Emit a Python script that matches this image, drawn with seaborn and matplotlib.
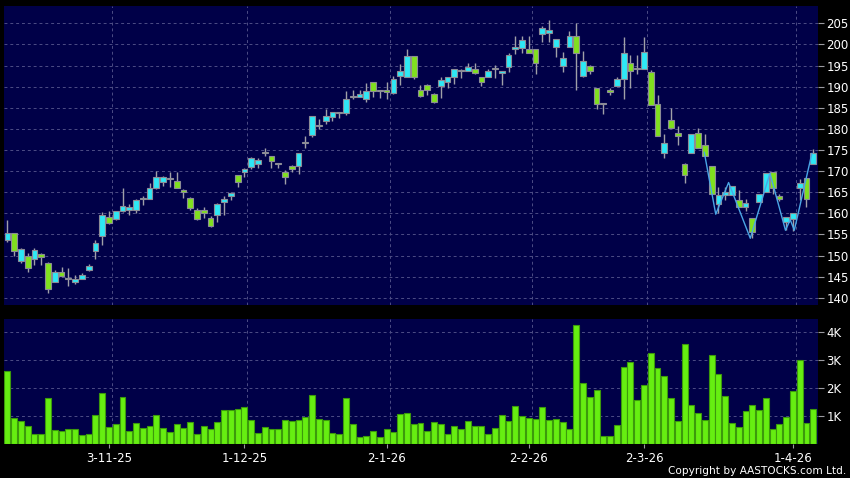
import numpy as np
import pandas as pd
import matplotlib
matplotlib.use("Agg")
import matplotlib.pyplot as plt
import seaborn as sns

## price data (one row per trading day)
opens = [153.8, 155.3, 148.8, 150.0, 149.1, 150.3, 148.2, 143.8, 146.0, 144.8,
         143.8, 144.5, 146.6, 151.2, 154.6, 159.2, 158.6, 160.5, 160.9, 160.9,
         163.5, 163.3, 166.1, 167.4, 168.2, 167.7, 165.6, 163.7, 160.9, 160.8,
         159.0, 159.7, 162.8, 164.0, 169.1, 169.9, 171.0, 171.6, 174.4, 173.6,
         172.0, 169.9, 171.2, 171.2, 176.7, 178.6, 180.8, 181.9, 182.9, 183.8,
         183.8, 187.6, 187.6, 187.0, 191.0, 189.0, 189.2, 188.4, 192.5, 192.4,
         197.2, 189.3, 190.4, 188.2, 190.2, 191.0, 192.2, 193.7, 193.8, 194.2,
         192.4, 192.4, 194.3, 193.2, 194.7, 198.8, 199.1, 198.8, 198.8, 202.4,
         202.8, 199.3, 194.9, 199.3, 202.0, 192.6, 195.0, 189.7, 186.0, 189.2,
         190.1, 191.9, 195.5, 194.2, 194.1, 193.4, 185.8, 174.2, 182.1, 179.0,
         171.7, 174.4, 179.0, 176.2, 171.3, 162.1, 164.4, 164.4, 163.2, 161.6,
         158.8, 162.8, 165.0, 169.8, 164.0, 157.9, 158.7, 166.0, 168.3, 171.7]
highs = [158.4, 155.3, 151.8, 150.5, 151.7, 150.7, 148.4, 146.7, 147.3, 147.0,
         145.4, 145.8, 147.9, 153.8, 160.4, 160.6, 160.6, 165.9, 162.2, 163.5,
         164.1, 167.1, 170.1, 168.8, 169.9, 169.9, 165.7, 163.9, 161.2, 161.4,
         159.4, 162.4, 164.2, 165.1, 169.1, 170.8, 173.4, 173.0, 175.4, 173.6,
         172.0, 170.3, 171.5, 174.2, 178.3, 183.0, 182.3, 184.8, 183.9, 184.0,
         189.0, 189.3, 189.2, 190.9, 191.0, 189.1, 191.2, 192.5, 195.3, 198.8,
         197.2, 190.4, 190.6, 188.6, 192.2, 192.2, 194.1, 194.3, 195.7, 195.7,
         192.4, 194.3, 195.1, 193.8, 197.9, 201.9, 201.9, 201.9, 198.8, 204.4,
         205.9, 201.2, 198.3, 203.2, 205.1, 198.4, 195.2, 189.7, 186.0, 189.7,
         192.2, 201.7, 197.5, 197.5, 201.7, 194.0, 188.0, 178.7, 184.9, 180.6,
         172.0, 178.8, 180.2, 178.7, 171.3, 166.3, 166.3, 166.5, 165.6, 163.4,
         158.8, 164.5, 169.5, 169.8, 164.5, 159.1, 160.0, 168.1, 168.3, 175.2]
lows = [153.3, 150.0, 148.3, 146.0, 147.8, 147.8, 141.2, 143.7, 145.0, 142.8,
        143.2, 144.4, 146.4, 149.3, 152.6, 157.5, 158.4, 160.3, 159.6, 160.0,
        161.9, 163.3, 165.8, 166.4, 166.2, 166.0, 163.7, 160.9, 158.4, 158.8,
        156.8, 158.0, 159.7, 163.1, 166.3, 168.5, 170.6, 170.8, 173.6, 170.8,
        170.8, 167.0, 169.7, 169.3, 175.5, 178.1, 179.9, 181.1, 181.9, 182.5,
        183.3, 187.0, 187.5, 186.4, 187.5, 187.2, 187.0, 188.2, 190.4, 192.4,
        191.7, 187.6, 188.0, 186.1, 187.4, 189.6, 190.6, 192.1, 193.6, 193.0,
        190.1, 192.2, 192.1, 190.4, 193.5, 197.7, 198.0, 197.9, 193.0, 200.5,
        200.6, 197.1, 193.5, 199.3, 189.3, 192.2, 193.0, 184.8, 183.6, 188.1,
        190.1, 187.0, 189.6, 193.0, 194.1, 185.7, 178.2, 173.1, 180.1, 176.1,
        167.1, 174.4, 175.5, 173.7, 164.5, 160.0, 163.1, 164.4, 161.6, 160.6,
        154.1, 162.8, 165.0, 164.6, 163.0, 156.0, 155.9, 163.1, 161.4, 171.7]
closes = [155.3, 151.1, 151.5, 147.0, 151.3, 149.6, 142.0, 146.2, 145.2, 144.5,
          144.4, 145.3, 147.5, 152.9, 159.5, 157.6, 160.5, 161.8, 161.4, 163.1,
          163.6, 166.1, 168.6, 168.6, 168.3, 166.1, 165.0, 161.2, 158.7, 160.2,
          157.0, 162.1, 163.3, 164.9, 167.5, 170.4, 173.0, 172.6, 174.5, 172.5,
          171.8, 168.6, 170.5, 174.2, 176.9, 183.0, 180.9, 183.0, 183.9, 183.9,
          187.0, 187.7, 188.3, 189.0, 189.0, 189.1, 188.7, 191.7, 193.7, 197.2,
          192.2, 187.8, 189.2, 186.3, 191.6, 192.2, 194.1, 193.8, 194.6, 193.3,
          191.2, 193.8, 194.4, 193.6, 197.4, 199.4, 201.0, 198.0, 195.5, 204.0,
          203.4, 201.2, 196.7, 202.0, 197.9, 196.1, 193.8, 185.8, 186.1, 188.8,
          191.8, 197.9, 193.7, 194.3, 198.3, 185.7, 178.2, 176.6, 180.1, 178.2,
          169.1, 178.8, 175.5, 173.7, 164.5, 164.3, 165.0, 166.5, 161.6, 162.4,
          155.7, 164.5, 169.5, 166.0, 163.3, 159.1, 160.0, 167.2, 163.3, 174.4]

## volume in thousands
volume = [2.62, 0.92, 0.83, 0.65, 0.36, 0.35, 1.65, 0.51, 0.46, 0.52,
          0.55, 0.31, 0.35, 1.05, 1.83, 0.61, 0.70, 1.67, 0.46, 0.75,
          0.58, 0.65, 1.05, 0.56, 0.43, 0.71, 0.58, 0.77, 0.35, 0.64,
          0.52, 0.80, 1.20, 1.20, 1.26, 1.33, 0.87, 0.39, 0.61, 0.52,
          0.54, 0.87, 0.81, 0.85, 0.96, 1.77, 0.90, 0.85, 0.38, 0.35,
          1.65, 0.71, 0.24, 0.29, 0.45, 0.26, 0.55, 0.42, 1.08, 1.12,
          0.70, 0.76, 0.48, 0.77, 0.70, 0.35, 0.64, 0.54, 0.83, 0.63,
          0.63, 0.37, 0.58, 1.02, 0.81, 1.36, 0.99, 0.92, 0.88, 1.33,
          0.85, 0.90, 0.77, 0.54, 4.24, 2.18, 1.68, 1.92, 0.29, 0.29,
          0.69, 2.75, 2.93, 1.58, 2.11, 3.26, 2.71, 2.42, 1.64, 0.82,
          3.57, 1.40, 1.11, 0.85, 3.17, 2.49, 1.71, 0.75, 0.62, 1.17,
          1.39, 1.20, 1.64, 0.52, 0.70, 0.98, 1.88, 3.01, 0.76, 1.26]

## zigzag overlay at the end of the chart
zz_idx = [102.9, 104.6, 106.5, 109.7, 112.6, 114.9, 115.6, 116.2, 118.8]
zz_val = [174.5, 159.8, 167.3, 154.1, 169.5, 156.0, 158.5, 156.0, 174.2]

## date labels and the trading day they fall on
date_labels = ["3-11-25", "1-12-25", "2-1-26", "2-2-26", "2-3-26", "1-4-26"]
date_index = [15, 35, 56, 77, 94, 116]

df = pd.DataFrame({"open": opens, "high": highs, "low": lows,
                   "close": closes, "volume": volume})
df["idx"] = np.arange(len(df))

BG = "#000048"
GRID = "#4d4d85"
UP = "#2ee8f5"
DOWN = "#80e01e"
DOJI = "#8a8a9a"
WICK = "#a0a0a8"

sns.set_theme(style="dark", rc={"axes.facecolor": BG, "figure.facecolor": "black"})
plt.rcParams["font.family"] = ["DejaVu Sans"]

fig = plt.figure(figsize=(8.5, 4.78), dpi=100)
W, H = 850, 478
ax_p = fig.add_axes([4 / W, 1 - 305 / H, (818 - 4) / W, (305 - 6) / H])
ax_v = fig.add_axes([4 / W, 1 - 444 / H, (818 - 4) / W, (444 - 319) / H])

## candles
diff = df["close"] - df["open"]
colors = np.where(diff.abs() < 0.25, DOJI, np.where(diff > 0, UP, DOWN))
body_lo = np.minimum(df["open"], df["close"])
body_h = np.maximum(diff.abs(), 0.2)
ax_p.vlines(df["idx"], df["low"], df["high"], color=WICK, lw=1, zorder=2)
ax_p.bar(df["idx"], body_h, bottom=body_lo, width=0.85, color=colors,
         edgecolor="#8c8c96", linewidth=0.8, zorder=3)

sns.lineplot(x=zz_idx, y=zz_val, sort=False, color="#4aa6e6", lw=1, ax=ax_p, zorder=4)

## volume
sns.barplot(data=df, x="idx", y="volume", native_scale=True, color="#66ee11",
            saturation=1, edgecolor="#3c9a0c", linewidth=0.8, width=0.88, ax=ax_v)

for ax in (ax_p, ax_v):
    ax.set_facecolor(BG)
    ax.set_xlim(-0.5, 119.7)
    for s in ax.spines.values():
        s.set_visible(False)
    ax.yaxis.tick_right()
    ax.grid(axis="y", color=GRID, linestyle=(0, (3, 3)), linewidth=0.7)
    ax.grid(axis="x", visible=False)
    for d in date_index:
        ax.axvline(d + 0.45, color=GRID, linestyle=(0, (3, 3)), linewidth=0.7, zorder=0)
    ax.set_axisbelow(True)
    ax.set_xlabel("")
    ax.set_ylabel("")
    ax.tick_params(axis="y", colors="#9a9aa0", labelcolor="white", labelsize=8.5,
                   length=4, width=0.8, pad=2, direction="out", right=True, left=False)

ax_p.set_ylim(138.3, 209.1)
ax_p.set_yticks(np.arange(140, 206, 5))
ax_p.set_xticks([])

ax_v.set_ylim(0, 4.47)
ax_v.set_yticks([1, 2, 3, 4])
ax_v.set_yticklabels(["1K", "2K", "3K", "4K"])
ax_v.set_xticks(date_index)
ax_v.set_xticklabels(date_labels)
ax_v.tick_params(axis="x", colors="#9a9aa0", labelcolor="white", labelsize=8.5,
                 length=3, width=0.8, pad=3, bottom=True)

fig.text(0.996, 1 - 471.5 / H, "Copyright by AASTOCKS.com Ltd.", color="white",
         fontsize=7.6, ha="right", va="center")

fig.savefig("out.png", dpi=100, facecolor="black")
